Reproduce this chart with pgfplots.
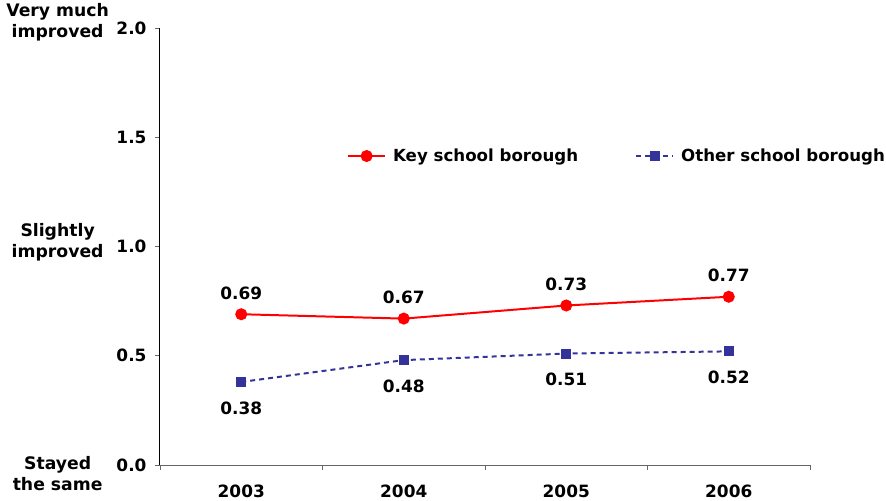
\documentclass[border=0pt]{standalone}
\usepackage{fontspec}
\setmainfont{DejaVu Sans}
\usepackage{pgfplots}
\pgfplotsset{compat=1.18}
\definecolor{keyred}{RGB}{255,0,0}
\definecolor{otherblue}{RGB}{51,51,153}
\pgfkeys{/pgf/number format/assume math mode=true}
\newcommand{\numfont}{\fontsize{17}{20}\selectfont\bfseries}
\newcommand{\legfont}{\fontsize{16.7}{19}\selectfont\bfseries}
\newcommand{\sidefont}{\fontsize{17.3}{21}\selectfont\bfseries}
\begin{document}
\begin{tikzpicture}
\begin{axis}[
  at={(0bp,0bp)}, anchor=south west,
  scale only axis, width=650bp, height=437bp,
  xmin=-0.5, xmax=3.5, ymin=0, ymax=2,
  axis x line*=bottom, axis y line*=left,
  x axis line style={draw=black!60, line width=1pt},
  y axis line style={draw=black, line width=1pt},
  xtick={0,1,2,3}, xticklabels={2003,2004,2005,2006},
  minor xtick={-0.5,0.5,1.5,2.5,3.5},
  major x tick style={draw=none},
  minor x tick style={draw=black!60, line width=0.8pt},
  ytick={0,0.5,1,1.5,2},
  y tick style={draw=black!60, line width=0.8pt},
  tick align=outside, major tick length=5bp, minor tick length=5bp,
  yticklabel style={/pgf/number format/fixed, /pgf/number format/fixed zerofill, /pgf/number format/precision=1, font=\numfont, xshift=-5bp},
  xticklabel style={font=\numfont, yshift=-11bp},
  clip=false,
  legend style={at={(rel axis cs:0.283,0.707)}, anchor=west, draw=none, fill=none, font=\legfont,
    legend columns=2, /tikz/every even column/.append style={column sep=50bp},
    nodes={inner xsep=7bp}},
  legend cell align=left,
  legend image code/.code={\draw[mark repeat=2, mark phase=2, #1] plot coordinates {(0bp,0bp) (18.5bp,0bp) (37bp,0bp)};},
  nodes near coords,
  nodes near coords style={font=\numfont, /pgf/number format/fixed, /pgf/number format/fixed zerofill, /pgf/number format/precision=2, text=black},
]
\addplot[keyred, line width=2pt, mark=*, mark size=5bp, mark options={solid, fill=keyred, draw=keyred},
  every node near coord/.append style={anchor=center, yshift=21bp}]
  coordinates {(0,0.69) (1,0.67) (2,0.73) (3,0.77)};
\addlegendentry{Key school borough}
\addplot[otherblue, line width=2pt, dash pattern=on 5bp off 4bp, mark=square*, mark size=4bp, mark options={solid, fill=otherblue, draw=otherblue},
  every node near coord/.append style={anchor=center, yshift=-26bp}]
  coordinates {(0,0.38) (1,0.48) (2,0.51) (3,0.52)};
\addlegendentry{Other school borough}
\node[align=center, font=\sidefont] at (axis cs:-1.13,2.025) {Very much\\improved};
\node[align=center, font=\sidefont] at (axis cs:-1.13,1.018) {Slightly\\improved};
\node[align=center, font=\sidefont] at (axis cs:-1.13,-0.039) {Stayed\\the same};
\end{axis}
\pgfresetboundingbox
\path[use as bounding box] (-160bp,-36bp) rectangle (726bp,465bp);
\end{tikzpicture}
\end{document}
